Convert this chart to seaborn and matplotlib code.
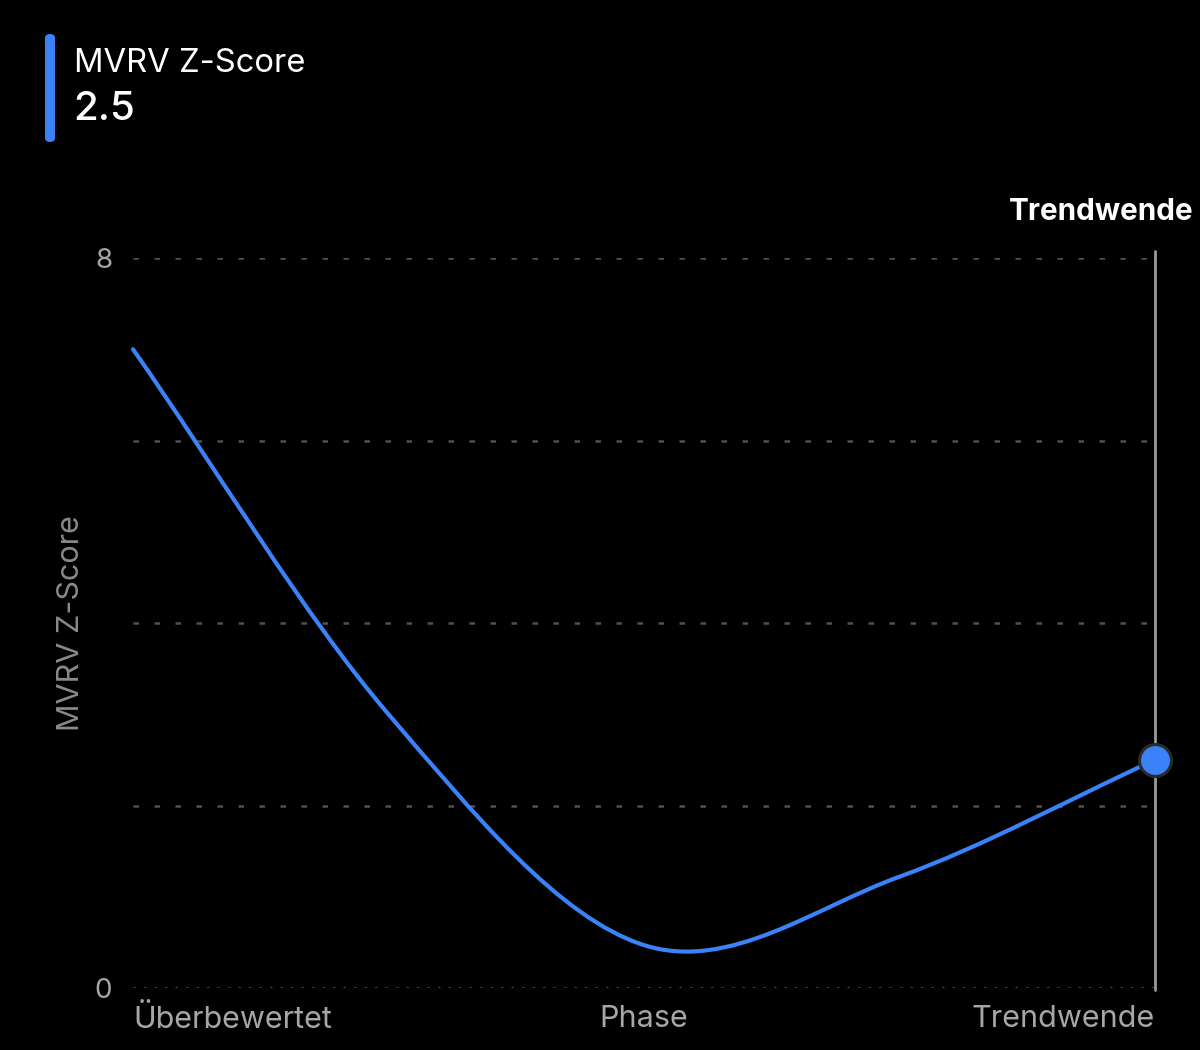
import numpy as np
import pandas as pd
import matplotlib
matplotlib.use("Agg")
import matplotlib.pyplot as plt
from matplotlib.patches import FancyBboxPatch, PathPatch
from matplotlib.path import Path
import seaborn as sns

# ---- data ----
x_pos = [0.0, 0.5, 1.0, 1.5, 2.0]
z_score = [7.0, 3.0, 0.47, 1.22, 2.5]
tick_positions = [0, 1, 2]
tick_labels = ["Überbewertet", "Phase", "Trendwende"]
y_ticks = [0, 8]
grid_levels = [2, 4, 6, 8]
current_value = 2.5
series_name = "MVRV Z-Score"
selected_label = "Trendwende"

BLUE = "#3A82F7"
df = pd.DataFrame({"x": x_pos, "z": z_score})

sns.set_theme(style="dark")
plt.rcParams["font.family"] = ["Inter", "DejaVu Sans"]

fig = plt.figure(figsize=(12, 10.5), dpi=100, facecolor="black")
ax = fig.add_axes([133/1200, 1-988/1050, (1155-133)/1200, (988-258)/1050])
ax.set_facecolor("black")

# grid lines
for g in grid_levels:
    ax.axhline(g, color="#505050", lw=1.8, ls=(0, (2.2, 6.2)), zorder=1)
ax.axhline(0, color="#5a5a5a", lw=1.8, ls=(0, (1.0, 3.2)), zorder=1)

# selection rule
ax.plot([2, 2], [-0.02, 8.08], color="#9a9a9a", lw=2, clip_on=False, zorder=2)

# smooth (Catmull-Rom style) line through the data points, drawn as Bezier path
xs = np.asarray(df["x"], float)
ys = np.asarray(df["z"], float)
m = np.gradient(ys, xs)
verts = [(xs[0], ys[0])]
codes = [Path.MOVETO]
for i in range(len(xs) - 1):
    h = xs[i + 1] - xs[i]
    verts += [(xs[i] + h / 3, ys[i] + m[i] * h / 3),
              (xs[i + 1] - h / 3, ys[i + 1] - m[i + 1] * h / 3),
              (xs[i + 1], ys[i + 1])]
    codes += [Path.CURVE4] * 3
ax.add_patch(PathPatch(Path(verts, codes), facecolor="none", edgecolor=BLUE,
                       lw=3.0, capstyle="round", zorder=3, clip_on=False))

sns.scatterplot(data=df.iloc[[-1]], x="x", y="z", ax=ax, s=530, color=BLUE,
                edgecolor="#2a2a2a", linewidth=2.2, zorder=4, clip_on=False)

ax.set_xlim(0, 2)
ax.set_ylim(0, 8)
for s in ax.spines.values():
    s.set_visible(False)
ax.grid(False)

ax.set_yticks(y_ticks)
ax.set_yticklabels([str(t) for t in y_ticks])
ax.tick_params(axis="y", length=0, pad=15, labelsize=20, labelcolor="#a6a6a6")
ax.set_xticks(tick_positions)
ax.set_xticklabels(tick_labels)
ax.tick_params(axis="x", length=0, pad=12, labelsize=22, labelcolor="#a6a6a6")
for lbl, ha in zip(ax.get_xticklabels(), ["left", "center", "right"]):
    lbl.set_ha(ha)

ax.set_xlabel("")
ax.set_ylabel(series_name, fontsize=22, color="#8a8a8a", labelpad=7)

# header
bar = FancyBboxPatch((45/1200, 1-142/1050), 10/1200, 108/1050,
                     boxstyle="round,pad=0,rounding_size=0.004",
                     transform=fig.transFigure, facecolor=BLUE, edgecolor="none")
fig.patches.append(bar)
fig.text(74/1200, 1-63/1050, series_name, color="white", fontsize=23.6,
         ha="left", va="center")
fig.text(73/1200, 1-110/1050, f"{current_value}", color="white", fontsize=29,
         ha="left", va="center", fontweight="medium")
fig.text(1193/1200, 1-212/1050, selected_label, color="white", fontsize=21.4,
         ha="right", va="center", fontweight="bold")

fig.savefig("out.png", dpi=100, facecolor="black")
